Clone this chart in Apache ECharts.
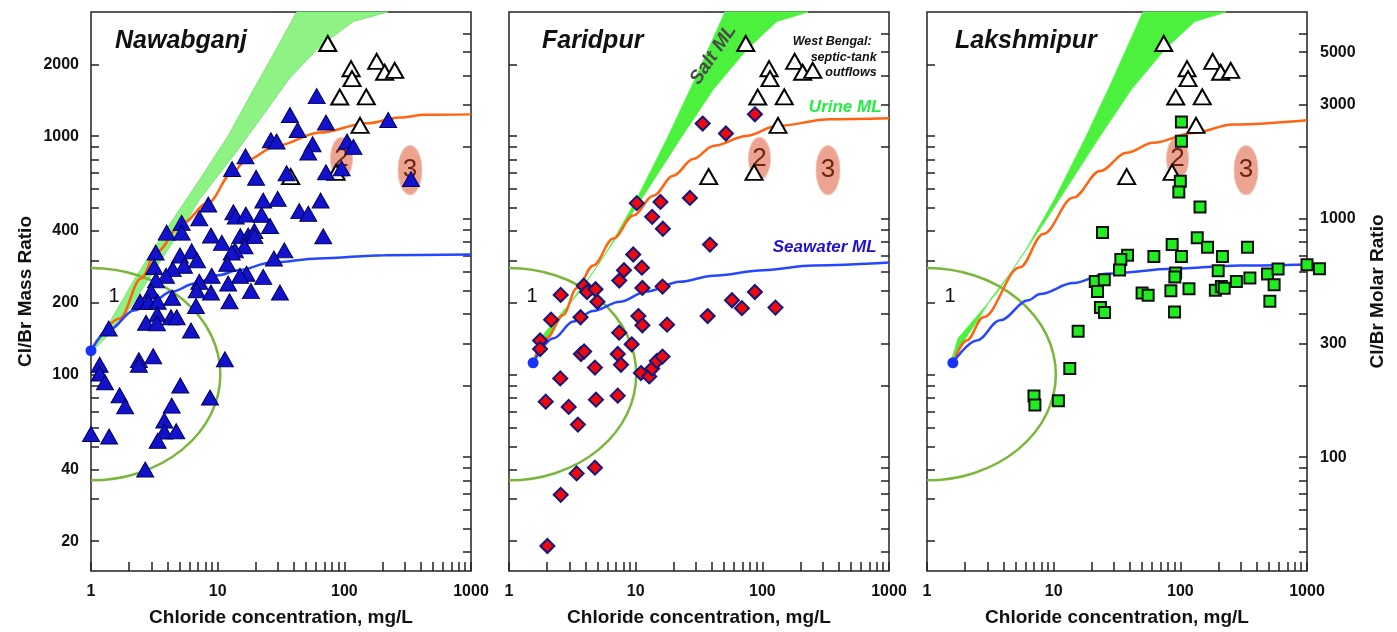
<!DOCTYPE html>
<html>
<head>
<meta charset="utf-8">
<script src="https://cdn.jsdelivr.net/npm/echarts@6/dist/echarts.min.js"></script>
<style>
  html, body { margin: 0; padding: 0; background: #fff; }
  #chart { width: 1397px; height: 632px; }
</style>
</head>
<body>
<div id="chart"></div>
<script>
// Cl/Br mass ratio against chloride concentration (mg/L) for three districts,
// with salt, urine and seawater mixing lines (ML) and West Bengal septic-tank outflows.

// ---- axis ticks and labels ----
const xTicks = [1, 2, 3, 4, 5, 6, 7, 8, 9, 10, 20, 30, 40, 50, 60, 70, 80, 90, 100,
  200, 300, 400, 500, 600, 700, 800, 900, 1000];
const xTickLabels = [1, 10, 100, 1000];
const massTicks = [20, 30, 40, 50, 60, 70, 80, 90, 100, 200, 300, 400, 500, 600, 700, 800, 900, 1000, 2000];
const massTickLabels = [20, 40, 100, 200, 400, 1000, 2000];
const molarTicks = [40, 50, 60, 70, 80, 90, 100, 200, 300, 400, 500, 600, 700, 800, 900, 1000,
  2000, 3000, 4000, 5000, 6000];
const molarTickLabels = [100, 300, 1000, 3000, 5000];

const xRange = [1, 1000];
const massRange = [15, 3320];
const molarPerMass = 2.22;

// ---- groundwater samples: [Cl mg/L, Cl/Br mass ratio] ----
const nawabganj = [
  [60.5, 1473], [37.2, 1227], [71.6, 1141], [222, 1170], [42.8, 1062], [26.3, 962], [29.2, 951],
  [56.2, 926], [105, 951], [118, 902], [51.9, 855], [16.6, 823], [13.0, 728], [20.1, 670],
  [35.0, 699], [71.6, 706], [95.2, 733], [336, 661], [8.43, 517], [22.9, 537], [29.8, 546],
  [65.0, 537], [7.16, 453], [13.3, 480], [13.9, 460], [16.7, 469], [22.2, 468], [44.1, 485],
  [51.9, 473], [5.20, 433], [3.96, 394], [5.20, 394], [8.85, 383], [10.8, 357], [15.1, 381],
  [17.4, 383], [19.5, 400], [19.5, 381], [25.9, 420], [68.2, 380], [16.3, 345], [13.7, 332],
  [12.9, 325], [3.24, 325], [6.23, 329], [5.04, 316], [6.87, 302], [5.42, 286], [33.6, 332],
  [27.8, 307], [11.9, 292], [3.16, 283], [4.41, 277], [16.9, 265], [22.9, 257], [15.0, 260],
  [8.97, 260], [3.91, 260], [3.26, 249], [7.16, 245], [12.1, 241], [6.83, 226], [8.85, 221],
  [18.3, 224], [31.0, 221], [2.98, 223], [2.44, 202], [2.83, 202], [3.36, 202], [4.38, 210],
  [12.4, 203], [6.74, 194], [3.34, 179], [2.72, 165], [3.32, 164], [4.28, 174], [4.75, 174],
  [6.16, 153], [1.38, 156], [2.39, 115], [2.39, 110], [3.10, 119.5], [11.4, 116], [1.17, 110],
  [1.17, 101], [1.29, 92.9], [5.07, 90.0], [1.68, 81.9], [1.86, 73.7], [8.70, 80.2], [4.34, 74.1],
  [3.79, 64.2], [3.79, 57.7], [4.71, 57.9], [3.36, 52.8], [1.0, 56.3], [1.39, 55.0], [2.68, 40.0]
];
const faridpur = [
  [87.4, 1236], [33.8, 1130], [51.6, 1027], [10.2, 524], [15.7, 530], [26.8, 551], [13.5, 459],
  [16.4, 409], [38.6, 351], [9.57, 319], [8.09, 274], [11.2, 281], [7.42, 248], [3.89, 236],
  [4.13, 222], [4.82, 228], [11.3, 231], [16.3, 234], [2.56, 216], [87.4, 222], [4.99, 202],
  [57.6, 205], [69.0, 190], [127, 191], [2.15, 170], [3.67, 174], [10.5, 176], [37.0, 176],
  [11.3, 161], [17.7, 162], [7.41, 150], [9.30, 134], [1.76, 139], [1.76, 128], [3.70, 122],
  [3.92, 125], [7.22, 122], [7.66, 110], [4.77, 107], [11.0, 101.5], [12.8, 98.3], [13.5, 106],
  [14.7, 114], [16.3, 119], [2.54, 96.4], [1.95, 77.0], [2.96, 73.2], [4.86, 78.5], [7.22, 81.6],
  [3.50, 61.7], [3.42, 38.5], [4.77, 40.7], [2.56, 31.3], [2.01, 19.1]
];
const lakshmipur = [
  [102, 1147], [102, 953], [100, 647], [97.3, 583], [143, 505], [24.3, 395], [86.2, 351],
  [136, 375], [164, 342], [339, 342], [38.3, 317], [33.9, 304], [61.8, 313], [102, 313],
  [215, 313], [33.1, 275], [91.8, 267], [90.5, 257], [199, 273], [21.3, 246], [25.1, 250],
  [22.2, 223], [49.9, 220], [55.7, 215], [84.2, 225], [117, 229], [189, 226], [211, 234],
  [222, 230], [277, 246], [354, 254], [488, 264], [550, 238], [591, 277], [1000, 289],
  [1254, 278], [509, 203], [23.4, 191], [25.2, 182], [90.0, 183], [15.6, 152], [13.4, 106],
  [6.99, 81.3], [7.11, 74.6], [10.9, 77.7]
];
// West Bengal septic-tank outflows
const septicTankOutflows = [
  [74, 2450], [113, 1920], [115, 1745], [180, 2060], [208, 1855], [250, 1890], [92, 1460],
  [149, 1463], [133, 1110], [37.7, 677], [86, 705]
];

// ---- mixing lines ----
const urineMLNawabganj = [[1.0, 126], [1.69, 172], [2.48, 253], [3.3, 327], [5.2, 429], [8.4, 525],
  [13, 700], [16.6, 790], [29.2, 911], [64, 1036], [150, 1133], [275, 1197], [433, 1230], [1000, 1235]];
const seawaterMLNawabganj = [[1.0, 126], [1.37, 154], [2.22, 186], [3.01, 202], [4.34, 223],
  [6.62, 241], [10.1, 261], [14.5, 274], [26.7, 295], [62.3, 307], [209, 317], [1000, 319]];
const urineMLFaridpur = [[1.55, 112], [1.98, 142], [2.68, 178], [3.42, 230], [4.63, 287], [6.66, 372],
  [9.57, 465], [13.8, 563], [19.8, 683], [28.5, 802], [41, 911], [75.2, 1003], [130, 1104],
  [342, 1178], [1000, 1189]];
const seawaterMLFaridpur = [[1.55, 112], [2.24, 142], [3.22, 167], [4.6, 185], [7.5, 202], [12.2, 223],
  [22.4, 245], [41, 260], [102, 274], [252, 287], [1000, 295]];
const urineMLLakshmipur = [[1.6, 112], [2.06, 139], [2.78, 174], [5.42, 282], [8.27, 389], [14.3, 553],
  [23.2, 714], [37.6, 852], [61, 938], [126, 1032], [261, 1119], [1000, 1166]];
const seawaterMLLakshmipur = [[1.6, 112], [2.47, 139], [3.77, 169], [6.3, 205], [7.8, 218], [14.3, 242],
  [26.2, 265], [88, 278], [295, 287], [1000, 290]];
// salt mixing-line envelope: lower-left edge then upper-right edge
const saltMLNawabganj = [[1.04, 129], [1.36, 161], [2.22, 253], [3.96, 409], [7.25, 661], [12.1, 1003],
  [18.6, 1522], [28.9, 2308], [42, 3320],
  [221, 3320], [117.6, 3030], [64.2, 2382], [37.2, 1759], [21.6, 1178], [13.3, 828], [7.25, 546],
  [5.2, 409], [2.87, 253], [1.69, 164], [1.08, 129]];
const saltMLFaridpur = [[1.55, 114], [1.76, 142], [3.63, 223], [5.9, 327], [10.2, 546], [17.6, 972],
  [28.5, 1676], [50.7, 3320],
  [230, 3320], [130, 3030], [75.2, 2308], [41, 1571], [22.4, 972], [13, 620], [7.52, 396],
  [4.63, 270], [3.22, 209], [2.38, 162], [1.65, 121]];
const saltMLLakshmipur = saltMLFaridpur;

// end-member water at the start of the mixing lines
const originNawabganj = [1.0, 126];
const originFaridpur = [1.55, 112];
const originLakshmipur = [1.6, 112];

// region 1: [centre Cl, centre ratio, Cl at right edge, ratio at top, ratio at bottom]
const region1Nawabganj = [1, 100, 10.5, 280, 36];
const region1Faridpur = [1, 100, 10.1, 280, 36];
const region1Lakshmipur = [1, 100, 10.4, 280, 36];
// regions 2 and 3 centres
const region2 = [95, 807];
const region3 = [330, 721];

const FONT = "'Liberation Sans', Arial, Helvetica, sans-serif";
const gridLefts = [91, 509, 927];
const gridTop = 12, gridW = 380, gridH = 561;

const labelAnchor1 = [1.52, 213];
const panels = [
  {
    title: 'Nawabganj', titleX: 115, data: nawabganj,
    symbol: 'triangle', size: [17, 15],
    item: { color: '#1212cc', borderColor: '#00005a', borderWidth: 1, opacity: 1 },
    band: saltMLNawabganj, bandColor: '#8ef285', bandEdge: '#7be873',
    urine: urineMLNawabganj, seawater: seawaterMLNawabganj,
    origin: originNawabganj, region1: region1Nawabganj,
    notes: [{ at: labelAnchor1, text: '1', font: '20px ' + FONT, color: '#111' }]
  },
  {
    title: 'Faridpur', titleX: 542, data: faridpur,
    symbol: 'diamond', size: 14,
    item: { color: '#ee0a0a', borderColor: '#15157e', borderWidth: 2, opacity: 1 },
    band: saltMLFaridpur, bandColor: '#4bf13c', bandEdge: '#5ef553',
    urine: urineMLFaridpur, seawater: seawaterMLFaridpur,
    origin: originFaridpur, region1: region1Faridpur,
    notes: [
      { at: labelAnchor1, text: '1', font: '20px ' + FONT, color: '#111' },
      { at: [41, 2200], text: 'Salt ML', font: 'italic bold 19px ' + FONT, color: '#4a4a4a', rotate: 56 },
      { at: [729, 2500], text: 'West Bengal:', font: 'italic bold 12.5px ' + FONT, color: '#111', align: 'right' },
      { at: [799, 2137], text: 'septic-tank', font: 'italic bold 12.5px ' + FONT, color: '#111', align: 'right' },
      { at: [799, 1845], text: 'outflows', font: 'italic bold 12.5px ' + FONT, color: '#111', align: 'right' },
      { at: [874, 1318], text: 'Urine ML', font: 'italic bold 17px ' + FONT, color: '#22ee44', align: 'right' },
      { at: [799, 343], text: 'Seawater ML', font: 'italic bold 17px ' + FONT, color: '#2211cc', align: 'right' }
    ]
  },
  {
    title: 'Lakshmipur', titleX: 955, data: lakshmipur,
    symbol: 'rect', size: 11,
    item: { color: '#1eee1e', borderColor: '#111', borderWidth: 2, opacity: 1 },
    band: saltMLLakshmipur, bandColor: '#4bf13c', bandEdge: '#5ef553',
    urine: urineMLLakshmipur, seawater: seawaterMLLakshmipur,
    origin: originLakshmipur, region1: region1Lakshmipur,
    notes: [{ at: labelAnchor1, text: '1', font: '20px ' + FONT, color: '#111' }]
  }
];

const roundLabel = v => String(Math.round(v));
const tickStyle = { color: '#222', width: 1.5 };
const labelStyle = { fontFamily: FONT, fontSize: 16, fontWeight: 'bold', color: '#111' };

const grids = gridLefts.map(left => ({
  left, top: gridTop, width: gridW, height: gridH,
  show: true, borderColor: '#222', borderWidth: 1.5, backgroundColor: 'transparent'
}));

const xAxes = panels.map((p, i) => ({
  gridIndex: i, type: 'log', logBase: 10, min: xRange[0], max: xRange[1],
  axisLine: { show: false }, splitLine: { show: false },
  axisTick: { show: true, inside: true, length: 9, customValues: xTicks, lineStyle: tickStyle },
  axisLabel: Object.assign({ show: true, margin: 13, customValues: xTickLabels, formatter: roundLabel }, labelStyle),
  name: 'Chloride concentration, mg/L', nameLocation: 'middle', nameGap: 37,
  nameTextStyle: { fontFamily: FONT, fontSize: 19, fontWeight: 'bold', color: '#111' }
}));

const leftAxes = panels.map((p, i) => ({
  gridIndex: i, type: 'log', logBase: 10, position: 'left', min: massRange[0], max: massRange[1],
  axisLine: { show: false }, splitLine: { show: false },
  axisTick: { show: true, inside: true, length: 8, customValues: massTicks, lineStyle: tickStyle },
  axisLabel: Object.assign({ show: i === 0, margin: 12, customValues: massTickLabels, formatter: roundLabel }, labelStyle),
  name: i === 0 ? 'Cl/Br Mass Ratio' : '', nameLocation: 'middle', nameGap: 56,
  nameTextStyle: { fontFamily: FONT, fontSize: 19, fontWeight: 'bold', color: '#111' }
}));

const rightAxes = panels.map((p, i) => ({
  gridIndex: i, type: 'log', logBase: 10, position: 'right',
  min: massRange[0] * molarPerMass, max: massRange[1] * molarPerMass,
  axisLine: { show: false }, splitLine: { show: false },
  axisTick: { show: true, inside: true, length: 8, customValues: molarTicks, lineStyle: tickStyle },
  axisLabel: Object.assign({ show: i === 2, margin: 13, customValues: molarTickLabels, formatter: roundLabel }, labelStyle),
  name: i === 2 ? 'Cl/Br Molar Ratio' : '', nameLocation: 'middle', nameGap: 61,
  nameTextStyle: { fontFamily: FONT, fontSize: 19, fontWeight: 'bold', color: '#111' }
}));

const series = [];
panels.forEach((p, i) => {
  const ax = { xAxisIndex: i, yAxisIndex: i };

  // salt mixing-line envelope
  series.push(Object.assign({
    type: 'custom', z: 1, silent: true, data: p.band, encode: { x: 0, y: 1 },
    renderItem: (params, api) => params.dataIndex === 0 ? {
      type: 'polygon',
      shape: { points: p.band.map(d => api.coord(d)) },
      style: { fill: p.bandColor, stroke: p.bandEdge, lineWidth: 1 }
    } : null
  }, ax));

  // regions 2 and 3
  series.push(Object.assign({
    type: 'scatter', z: 2, silent: true, symbol: 'circle',
    data: [
      { value: region2, name: '2', symbolSize: [22, 42] },
      { value: region3, name: '3', symbolSize: [24, 49] }
    ],
    itemStyle: { color: '#eca390', borderColor: '#f3c2b4', borderWidth: 1, opacity: 1 },
    label: { show: true, position: 'inside', formatter: '{b}', color: '#6e2413', fontSize: 26, fontFamily: FONT }
  }, ax));

  // region 1: half ellipse against the left axis
  series.push(Object.assign({
    type: 'custom', z: 3, silent: true, data: [p.region1], encode: { x: 0, y: 1 },
    renderItem: (params, api) => {
      const c = api.coord([api.value(0), api.value(1)]);
      const r = api.coord([api.value(2), api.value(1)]);
      const t = api.coord([api.value(0), api.value(3)]);
      const b = api.coord([api.value(0), api.value(4)]);
      const rx = r[0] - c[0], ryT = c[1] - t[1], ryB = b[1] - c[1];
      return {
        type: 'path',
        shape: {
          pathData: 'M' + c[0] + ' ' + t[1] +
            ' A' + rx + ' ' + ryT + ' 0 0 1 ' + r[0] + ' ' + c[1] +
            ' A' + rx + ' ' + ryB + ' 0 0 1 ' + c[0] + ' ' + b[1]
        },
        style: { fill: null, stroke: '#7ab63a', lineWidth: 2.5 }
      };
    }
  }, ax));

  // urine and seawater mixing lines
  series.push(Object.assign({
    type: 'line', z: 4, silent: true, data: p.urine, smooth: 0.35, smoothMonotone: 'x',
    showSymbol: false, lineStyle: { color: '#ff6410', width: 2.5 }
  }, ax));
  series.push(Object.assign({
    type: 'line', z: 4, silent: true, data: p.seawater, smooth: 0.35, smoothMonotone: 'x',
    showSymbol: false, lineStyle: { color: '#2548ff', width: 2.5 }
  }, ax));
  series.push(Object.assign({
    type: 'scatter', z: 5, silent: true, data: [p.origin], symbol: 'circle', symbolSize: 11,
    itemStyle: { color: '#1733ff', opacity: 1 }
  }, ax));

  // text annotations
  series.push(Object.assign({
    type: 'custom', z: 6, silent: true, data: p.notes.map(n => n.at), encode: { x: 0, y: 1 },
    renderItem: (params, api) => {
      const n = p.notes[params.dataIndex];
      const pt = api.coord(n.at);
      return {
        type: 'text', x: pt[0], y: pt[1], rotation: (n.rotate || 0) * Math.PI / 180,
        style: { text: n.text, font: n.font, fill: n.color, align: n.align || 'center', verticalAlign: 'middle' }
      };
    }
  }, ax));

  // septic-tank outflows
  series.push(Object.assign({
    type: 'scatter', z: 7, silent: true, data: septicTankOutflows, symbol: 'triangle', symbolSize: [17, 15],
    itemStyle: { color: '#fff', borderColor: '#000', borderWidth: 2, opacity: 1 }
  }, ax));

  // district samples
  series.push(Object.assign({
    type: 'scatter', z: 8, silent: true, clip: false, data: p.data, symbol: p.symbol, symbolSize: p.size,
    itemStyle: p.item
  }, ax));
});

const titles = panels.map(p => ({
  type: 'text', x: p.titleX, y: 41, silent: true,
  style: { text: p.title, font: 'italic bold 25px ' + FONT, fill: '#111', verticalAlign: 'middle' }
}));

const chart = echarts.init(document.getElementById('chart'), null, { renderer: 'canvas' });
chart.setOption({
  animation: false,
  backgroundColor: '#fff',
  grid: grids,
  xAxis: xAxes,
  yAxis: leftAxes.concat(rightAxes),
  series: series,
  graphic: titles
});
</script>
</body>
</html>
